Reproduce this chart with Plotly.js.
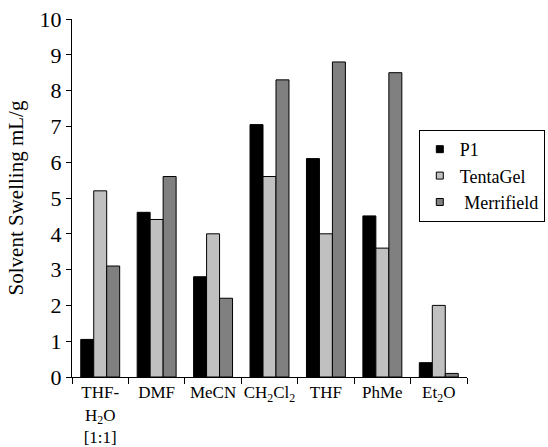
<!DOCTYPE html>
<html>
<head>
<meta charset="utf-8">
<script src="https://cdn.plot.ly/plotly-3.0.1.min.js"></script>
<style>html,body{margin:0;padding:0;background:#fff;}#chart{width:548px;height:447px;}</style>
</head>
<body>
<div id="chart"></div>
<script>
var categories = ["THF-<br>H<sub>2</sub>O<br>[1:1]", "DMF", "MeCN", "CH<sub>2</sub>Cl<sub>2</sub>", "THF", "PhMe", "Et<sub>2</sub>O"];
var p1 = [1.05, 4.6, 2.8, 7.05, 6.1, 4.5, 0.4];
var tentagel = [5.2, 4.4, 4.0, 5.6, 4.0, 3.6, 2.0];
var merrifield = [3.1, 5.6, 2.2, 8.3, 8.8, 8.5, 0.1];
var seriesNames = ["P1", "TentaGel", " Merrifield"];
var seriesColors = ["#000000", "#c0c0c0", "#808080"];
var yTicks = [0, 1, 2, 3, 4, 5, 6, 7, 8, 9, 10];

var fontFam = "'Liberation Serif', 'Times New Roman', serif";
var allVals = [p1, tentagel, merrifield];
var data = [];
allVals.forEach(function (vals, i) {
  data.push({type: "bar", name: seriesNames[i], x: categories, y: vals, showlegend: false,
    marker: {color: seriesColors[i], line: {color: "#000", width: 1}}});
});
// legend-only entries with small square symbols
allVals.forEach(function (vals, i) {
  data.push({type: "scatter", mode: "markers", name: seriesNames[i], x: [categories[0]], y: [null],
    showlegend: true, hoverinfo: "skip",
    marker: {symbol: "square", size: 7, color: seriesColors[i], line: {color: "#000", width: 1}}});
});
var layout = {
  width: 548, height: 447,
  margin: {l: 72, r: 81, t: 19, b: 70, autoexpand: false},
  paper_bgcolor: "#fff", plot_bgcolor: "#fff",
  font: {family: fontFam, size: 18, color: "#000"},
  barmode: "group", bargap: 0.31, bargroupgap: 0,
  showlegend: true,
  legend: {x: 0.878, y: 0.69, xanchor: "left", yanchor: "top",
    bordercolor: "#000", borderwidth: 1, bgcolor: "#fff",
    font: {family: fontFam, size: 18}, tracegroupgap: 0, itemwidth: 30},
  xaxis: {showline: true, linecolor: "#000", linewidth: 1,
    ticks: "outside", tickson: "boundaries", ticklen: 6, tickcolor: "#000",
    tickangle: 0,
    tickfont: {family: fontFam, size: 17}, showgrid: false, fixedrange: true},
  yaxis: {range: [0, 10], tickvals: yTicks, ticktext: yTicks.map(String),
    showline: true, linecolor: "#000", linewidth: 1,
    ticks: "outside", ticklen: 5, tickcolor: "#000",
    tickfont: {family: fontFam, size: 22}, showgrid: false, zeroline: false,
    title: {text: "Solvent Swelling mL/g", font: {family: fontFam, size: 21}, standoff: 10}}
};
Plotly.newPlot("chart", data, layout, {displayModeBar: false, staticPlot: true});
</script>
</body>
</html>
